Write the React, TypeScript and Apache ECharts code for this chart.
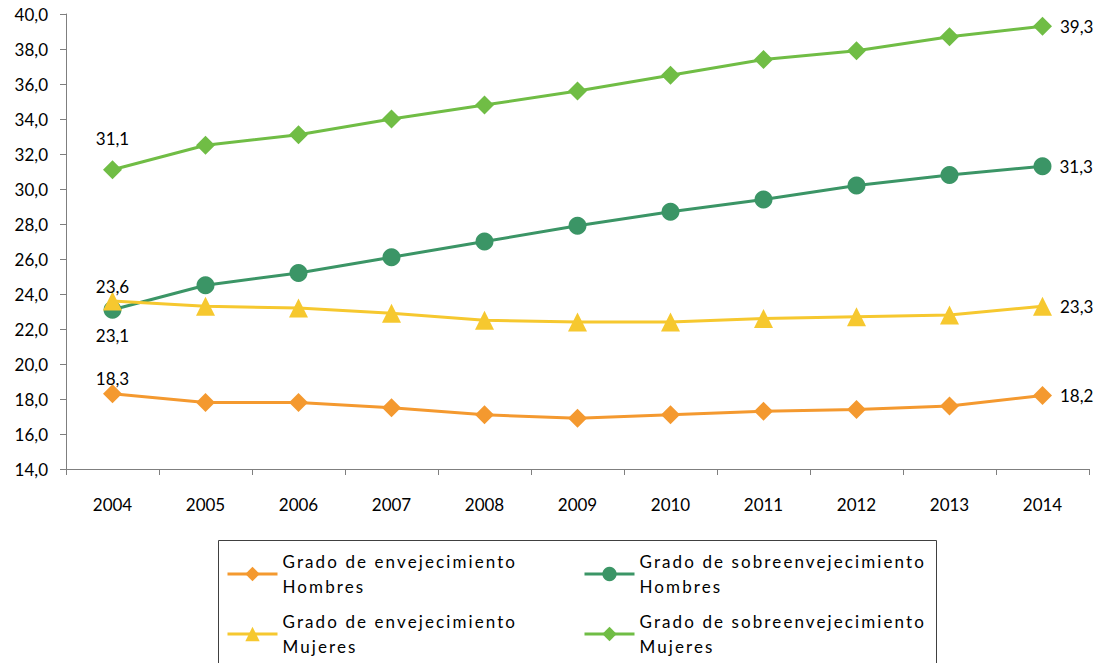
import React, { useEffect, useRef } from "react";
import * as echarts from "echarts";

const years = ["2004", "2005", "2006", "2007", "2008", "2009", "2010", "2011", "2012", "2013", "2014"];
const envHombres = [18.3, 17.8, 17.8, 17.5, 17.1, 16.9, 17.1, 17.3, 17.4, 17.6, 18.2];
const sobreHombres = [23.1, 24.5, 25.2, 26.1, 27.0, 27.9, 28.7, 29.4, 30.2, 30.8, 31.3];
const envMujeres = [23.6, 23.3, 23.2, 22.9, 22.5, 22.4, 22.4, 22.6, 22.7, 22.8, 23.3];
const sobreMujeres = [31.1, 32.5, 33.1, 34.0, 34.8, 35.6, 36.5, 37.4, 37.9, 38.7, 39.3];

const names = {
  envH: "Grado de envejecimiento\nHombres",
  sobreH: "Grado de sobreenvejecimiento\nHombres",
  envM: "Grado de envejecimiento\nMujeres",
  sobreM: "Grado de sobreenvejecimiento\nMujeres",
};

const FONT = "Lato";
const LEGEND_FONT = "Lato, Carlito";
const fmt = (v: number) => v.toFixed(1).replace(".", ",");

function buildData(values: number[], firstPos: string, firstDist: number) {
  const last = values.length - 1;
  return values.map((v, i) => {
    if (i === 0) {
      return { value: v, label: { show: true, position: firstPos, distance: firstDist } };
    }
    if (i === last) {
      return { value: v, label: { show: true, position: "right", distance: 8 } };
    }
    return v;
  });
}

function makeSeries(name: string, values: number[], color: string, symbol: string, size: number, firstPos: string, firstDist: number) {
  return {
    name,
    type: "line",
    data: buildData(values, firstPos, firstDist),
    symbol,
    symbolSize: size,
    showAllSymbol: true,
    lineStyle: { color, width: 3 },
    itemStyle: { color },
    label: {
      show: false,
      color: "#000",
      fontFamily: FONT,
      fontSize: 17,
      formatter: (p: any) => fmt(p.value),
    },
    emphasis: { disabled: true },
  };
}

export default function App() {
  const ref = useRef<HTMLDivElement>(null);
  useEffect(() => {
    if (!ref.current) return;
    const chart = echarts.init(ref.current, null, { renderer: "svg" });
    const legendText = {
      fontFamily: LEGEND_FONT,
      fontSize: 17,
      color: "#000",
      lineHeight: 25,
    };
    const legendCommon = {
      orient: "vertical",
      top: 549,
      padding: 0,
      itemGap: 10,
      itemWidth: 50,
      itemHeight: 18,
      textStyle: legendText,
      lineStyle: { width: 3 },
      selectedMode: false,
    };
    chart.setOption({
      animation: false,
      backgroundColor: "#fff",
      grid: { left: 66, right: 12, top: 14, bottom: 194, containLabel: false },
      xAxis: {
        type: "category",
        data: years,
        boundaryGap: true,
        axisLine: { lineStyle: { color: "#7f7f7f", width: 1 } },
        axisTick: { show: true, length: 6, alignWithLabel: false, lineStyle: { color: "#7f7f7f" } },
        axisLabel: { color: "#000", fontFamily: FONT, fontSize: 17, margin: 27 },
        splitLine: { show: false },
      },
      yAxis: {
        type: "value",
        min: 14,
        max: 40,
        interval: 2,
        axisLine: { show: true, lineStyle: { color: "#7f7f7f", width: 1 } },
        axisTick: { show: true, length: 6, inside: false, lineStyle: { color: "#7f7f7f" } },
        axisLabel: { color: "#000", fontFamily: FONT, fontSize: 17, margin: 18, formatter: (v: number) => fmt(v) },
        splitLine: { show: false },
      },
      legend: [
        { ...legendCommon, left: 226, data: [names.envH, names.envM] },
        { ...legendCommon, left: 583, data: [names.sobreH, names.sobreM] },
      ],
      graphic: [
        {
          type: "rect",
          shape: { x: 218.5, y: 540.5, width: 718, height: 140 },
          style: { fill: "none", stroke: "#404040", lineWidth: 1 },
          silent: true,
        },
      ],
      series: [
        makeSeries(names.envH, envHombres, "#F4992F", "diamond", 19, "top", -3),
        makeSeries(names.sobreH, sobreHombres, "#3B9566", "circle", 18, "bottom", 8),
        makeSeries(names.envM, envMujeres, "#F6C82F", "triangle", 19, "top", -3),
        makeSeries(names.sobreM, sobreMujeres, "#70BD45", "diamond", 19, "top", 13),
      ],
    });
    return () => chart.dispose();
  }, []);
  return (
    <>
      <style>{`text[style*="Carlito"], text[font-family*="Carlito"] { letter-spacing: 2.1px; }`}</style>
      <div ref={ref} style={{ position: "fixed", left: 0, top: 0, width: 1101, height: 663 }} />
    </>
  );
}
